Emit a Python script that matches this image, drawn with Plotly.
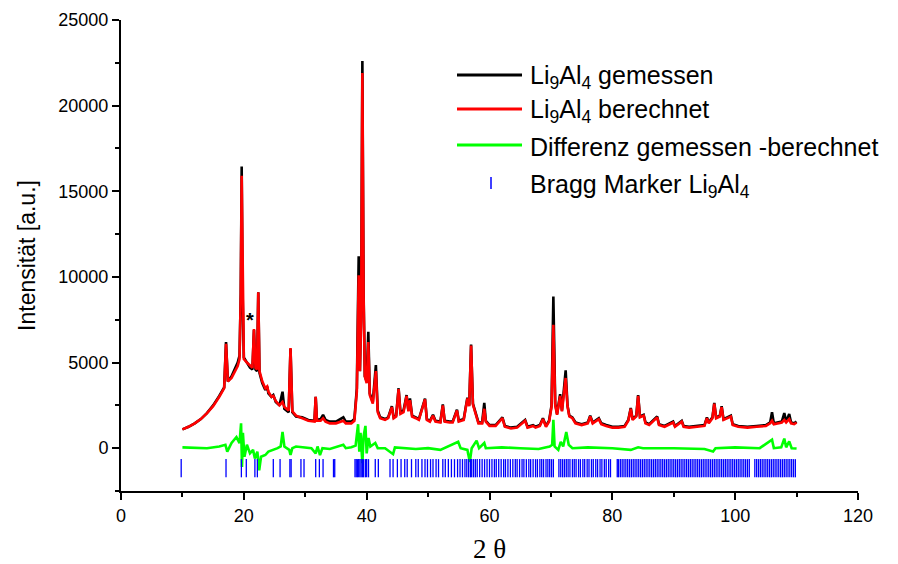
import plotly.graph_objects as go

# ---------------- data ----------------
two_theta = [10.0, 11.0, 12.0, 13.0, 14.0, 15.0, 16.0, 16.8, 17.1, 17.4, 18.0, 18.6, 19.0, 19.3, 19.5, 19.65, 19.8,
             20.0, 20.5, 21.0, 21.4, 21.65, 21.9, 22.15, 22.35, 22.55, 23.0, 23.5, 23.8, 24.0, 24.5, 24.8, 25.2,
             25.8, 26.3, 26.6, 27.3, 27.6, 27.9, 28.5, 29.5, 30.5, 31.5, 31.7, 31.9, 32.5, 32.9, 33.3, 34.0, 35.0,
             36.2, 36.6, 37.5, 38.0, 38.4, 38.7, 38.9, 39.1, 39.3, 39.5, 39.7, 40.0, 40.27, 40.5, 41.0, 41.5, 41.8,
             42.2, 43.0, 43.5, 44.1, 44.4, 44.8, 45.2, 45.5, 46.0, 46.5, 46.8, 47.05, 47.4, 48.0, 48.5, 49.5, 49.8,
             50.3, 50.8, 51.2, 52.0, 52.4, 52.7, 53.5, 54.0, 54.7, 55.0, 55.8, 56.4, 56.7, 57.0, 57.3, 57.8, 58.2,
             58.8, 59.15, 59.4, 60.0, 61.0, 62.1, 62.5, 63.5, 64.5, 65.8, 66.2, 67.1, 67.5, 68.2, 68.7, 69.2, 69.7,
             70.1, 70.4, 70.7, 71.0, 71.5, 71.8, 72.4, 72.7, 73.0, 73.5, 74.0, 75.0, 76.0, 76.4, 76.8, 77.8, 78.2,
             79.0, 80.0, 81.0, 82.0, 82.6, 83.0, 83.3, 83.9, 84.2, 84.5, 85.1, 85.4, 86.0, 87.3, 87.6, 88.5, 89.9,
             90.2, 91.3, 91.6, 92.5, 94.0, 95.0, 95.4, 95.7, 96.3, 96.6, 96.9, 97.5, 97.8, 98.1, 99.3, 99.6, 100.5,
             102.0, 103.5, 105.0, 105.7, 106.0, 106.3, 107.0, 107.6, 108.0, 108.3, 108.8, 109.1, 109.6, 110.0]

measured = [1100, 1250, 1450, 1700, 2050, 2500, 3050, 3550, 6200, 3900, 4200, 4700, 5000, 5400, 9000, 16450, 9000,
            5300, 5000, 4700, 4600, 6900, 4600, 4500, 9100, 4400, 3800, 3400, 3600, 3200, 3000, 3100, 2700,
            2500, 3300, 2300, 2100, 5800, 2100, 1850, 1800, 1650, 1600, 3000, 1650, 1700, 1950, 1650, 1550, 1550,
            1800, 1550, 1550, 1700, 3500, 11200, 4500, 8000, 22600, 9000, 4200, 3900, 6800, 3200, 2700, 4850, 2200,
            1800, 1700, 1800, 2450, 1800, 1900, 3500, 2100, 2200, 3100, 2200, 2900, 1900, 1800, 1700, 2900, 1700,
            1600, 1950, 1600, 1550, 2550, 1600, 1550, 1550, 2250, 1600, 1700, 2950, 2500, 6050, 2600, 2000, 1500,
            1500, 2650, 1600, 1350, 1350, 1800, 1300, 1200, 1250, 1650, 1250, 1350, 1250, 1350, 1750, 1300, 1600,
            2500, 8850, 2600, 2000, 3150, 2200, 4550, 2500, 1900, 1800, 1500, 1400, 1500, 1900, 1500, 1750, 1450,
            1350, 1250, 1250, 1300, 1650, 2350, 1700, 1900, 3100, 1850, 1950, 1500, 1400, 1850, 1400, 1300, 1550,
            1300, 1600, 1300, 1250, 1300, 1350, 1800, 1500, 1800, 2650, 1800, 1900, 2450, 1700, 1900, 1400, 1300,
            1250, 1300, 1350, 1500, 2100, 1450, 1500, 1550, 2050, 1550, 2000, 1500, 1450, 1550]

calculated = [1100, 1250, 1450, 1700, 2050, 2450, 3000, 3500, 6100, 3900, 4100, 4500, 4800, 5200, 9000, 15900, 9000,
              5200, 5000, 4800, 4700, 6950, 4700, 4600, 9100, 4500, 3900, 3500, 3600, 3300, 3000, 3050, 2750,
              2500, 2700, 2400, 2200, 5850, 2150, 1900, 1750, 1600, 1550, 3000, 1600, 1600, 1750, 1550, 1450, 1450,
              1600, 1450, 1450, 1600, 3300, 10100, 4500, 7500, 21900, 8800, 4200, 3800, 6200, 3100, 2600, 4500, 2100,
              1750, 1650, 1750, 2400, 1750, 1850, 3450, 2000, 2100, 3050, 2150, 2800, 1850, 1750, 1650, 2850, 1650,
              1550, 1900, 1550, 1500, 2500, 1550, 1500, 1500, 2200, 1550, 1650, 2900, 2450, 6000, 2550, 1950, 1450,
              1450, 2300, 1550, 1300, 1300, 1750, 1250, 1150, 1200, 1600, 1200, 1300, 1200, 1300, 1700, 1250, 1550,
              2400, 7200, 2500, 1950, 3050, 2150, 4100, 2450, 1850, 1750, 1450, 1350, 1450, 1850, 1450, 1700, 1400,
              1300, 1200, 1200, 1250, 1600, 2300, 1650, 1850, 3050, 1800, 1900, 1450, 1350, 1800, 1350, 1250, 1500,
              1250, 1550, 1250, 1200, 1250, 1300, 1750, 1450, 1750, 2600, 1750, 1850, 2400, 1650, 1850, 1350, 1250,
              1200, 1250, 1300, 1450, 1600, 1400, 1450, 1500, 1650, 1500, 1700, 1450, 1400, 1500]

diff_theta = [10, 12, 14, 16, 17, 17.3, 18, 18.8, 19.3, 19.55, 19.7, 19.85, 20.1, 20.5, 21.0, 21.5, 21.8, 22.2,
              22.5, 22.8, 23.5, 24.0, 24.8, 25.5, 26.0, 26.3, 26.6, 27.4, 27.6, 27.9, 28.5, 29.5, 31.0, 31.7,
              32.0, 32.4, 32.8, 34, 36.2, 36.6, 37.5, 38.2, 38.6, 38.8, 39.0, 39.3, 39.5, 39.8, 40.0, 40.3, 40.6,
              41.4, 41.8, 43, 44.3, 44.6, 46, 48, 50, 52, 54.9, 55.3, 56.4, 56.8, 57.1, 57.9, 58.3, 59.15, 59.4,
              62, 65, 68, 69.8, 70.2, 70.4, 70.6, 71.2, 71.6, 72.0, 72.5, 72.9, 73.5, 76, 80, 83, 84.2, 85, 90,
              95, 96.4, 96.8, 100, 104, 106.0, 106.3, 107.5, 108.0, 108.3, 108.8, 109.2, 110]
difference = [50, 30, 0, 100, 200, -200, 300, 650, 300, 1450, -1100, 900, -500, 200, -300, -100, -600, -200,
              -1300, -500, -400, -200, -100, 0, 100, 950, 100, -100, -400, 0, 100, 50, 0, -300,
              100, -400, 0, -50, 200, 0, 50, 150, 1400, -200, 900, -880, 700, 1300, -300, 600, 100,
              300, 0, 0, -350, 50, 0, -50, 0, -100, 370, 0, -100, -800, 0, 440, 0, 300, 0,
              50, 0, -50, 100, 200, 1650, 100, -100, 370, 100, 950, 200, 0, 50, 0, -100, 50, 0, 0,
              -50, -200, 0, 50, 0, 500, 0, 50, 560, 50, 400, 0, -20]

bragg_positions = [9.8, 17.1, 19.6, 20.4, 21.8, 22.2, 24.8, 25.9, 27.5, 27.7, 29.3, 29.8, 31.7, 32.3, 32.9, 34.6, 34.8,
                   38.1, 38.3, 38.5, 38.7, 38.9, 39.1, 39.3, 39.5, 39.8, 40.0, 40.3, 41.4, 41.9,
                   43.8, 44.3, 45.0, 45.6, 46.2, 46.6, 47.3, 48.0, 48.4, 49.0, 49.5, 49.9, 50.4, 50.8, 51.3, 51.7,
                   52.4, 52.8, 53.3, 53.8, 54.3, 54.8, 55.2, 55.6, 56.0, 56.3, 56.6, 56.9, 57.1, 57.4, 57.7, 58.0,
                   58.4, 58.8, 59.2, 59.6, 60.0, 60.4, 60.8, 61.1, 61.5, 61.9, 62.3, 62.6, 63.0, 63.4, 63.8, 64.2,
                   64.5, 64.9, 65.3, 65.6, 66.0, 66.4, 66.7, 67.1, 67.5, 67.8, 68.2, 68.5, 68.8, 69.2, 69.5, 69.8,
                   70.1, 70.4, 71.3, 71.6, 71.9, 72.2, 72.5, 72.8, 73.1, 73.5, 73.8, 74.1, 74.5, 74.8, 75.2, 75.5,
                   75.9, 76.2, 76.6, 76.9, 77.3, 77.6, 78.0, 78.3, 78.7, 79.0, 79.4, 79.7, 80.8, 81.0, 81.3, 81.6,
                   81.9, 82.2, 82.5, 82.8, 83.1, 83.4, 83.7, 84.0, 84.3, 84.6, 84.9, 85.2, 85.5, 85.8, 86.1, 86.4,
                   86.7, 87.0, 87.3, 87.6, 87.9, 88.2, 88.5, 88.8, 89.1, 89.4, 89.7, 90.0, 90.3, 90.6, 90.9, 91.2,
                   91.5, 91.8, 92.1, 92.4, 92.7, 93.0, 93.3, 93.6, 93.9, 94.2, 94.5, 94.8, 95.1, 95.4, 95.7, 96.0,
                   96.3, 96.6, 96.9, 97.2, 97.5, 97.8, 98.1, 98.4, 98.7, 99.0, 99.3, 99.6, 99.9, 100.2, 100.5, 100.8,
                   101.1, 101.4, 101.7, 102.0, 102.3, 103.2, 103.5, 103.8, 104.1, 104.4, 104.7, 105.0, 105.3, 105.6,
                   105.9, 106.2, 106.5, 106.8, 107.1, 107.4, 107.7, 108.0, 108.3, 108.6, 108.9, 109.2, 109.5, 109.8]
bragg_level = -1170

x_ticks = [0, 20, 40, 60, 80, 100, 120]
y_ticks = [0, 5000, 10000, 15000, 20000, 25000]

series_names = ["Li<sub>9</sub>Al<sub>4</sub> gemessen",
                "Li<sub>9</sub>Al<sub>4</sub> berechnet",
                "Differenz gemessen -berechnet",
                "Bragg Marker Li<sub>9</sub>Al<sub>4</sub>"]
series_colors = ["black", "#ff0000", "#00ff00", "#0000ff"]

# ---------------- figure ----------------
fig = go.Figure()
fig.add_trace(go.Scatter(x=two_theta, y=measured, mode="lines",
                         line=dict(color=series_colors[0], width=2.6), name=series_names[0]))
fig.add_trace(go.Scatter(x=two_theta, y=calculated, mode="lines",
                         line=dict(color=series_colors[1], width=2.6), name=series_names[1]))
fig.add_trace(go.Scatter(x=diff_theta, y=difference, mode="lines",
                         line=dict(color=series_colors[2], width=2.6), name=series_names[2]))
fig.add_trace(go.Scatter(x=bragg_positions, y=[bragg_level] * len(bragg_positions), mode="markers",
                         marker=dict(symbol="line-ns", size=13, line=dict(color=series_colors[3], width=1.3)),
                         name=series_names[3]))

fig.add_annotation(x=21.0, y=7500, text="<b>*</b>", showarrow=False,
                   font=dict(size=20, color="black", family="Liberation Sans, Arial"))

# ---- hand-built legend (long line samples as in the original) ----
L, R, T, B = 121, 858, 20, 491          # plot area in pixels
def px(xp):
    return (xp - L) / (R - L)
def py(yp):
    return (B - yp) / (B - T)

legend_rows = [75, 109, 145, 184]
for i, (name, col, yr) in enumerate(zip(series_names, series_colors, legend_rows)):
    if i < 3:
        fig.add_shape(type="line", xref="paper", yref="paper",
                      x0=px(457), x1=px(522), y0=py(yr), y1=py(yr),
                      line=dict(color=col, width=3))
    else:
        fig.add_shape(type="line", xref="paper", yref="paper",
                      x0=px(491), x1=px(491), y0=py(yr - 7), y1=py(yr + 5),
                      line=dict(color=col, width=1.5))
    fig.add_annotation(xref="paper", yref="paper", x=px(528), y=py(yr + 2), text=name,
                       showarrow=False, xanchor="left", yanchor="middle",
                       font=dict(family="Liberation Sans, Arial", size=25, color="black"))

axis_common = dict(showline=True, linecolor="black", linewidth=2, ticks="outside",
                   tickcolor="black", tickwidth=2, ticklen=7, showgrid=False, zeroline=False,
                   automargin=False,
                   tickfont=dict(family="Liberation Sans, Arial", size=18, color="black"))

fig.update_xaxes(range=[0, 120], tickvals=x_ticks, tickformat="d",
                 minor=dict(ticks="outside", tickvals=[10, 30, 50, 70, 90, 110], ticklen=4,
                            tickwidth=2, tickcolor="black"),
                 title=dict(text="2 θ", font=dict(family="Liberation Serif, Times New Roman", size=27,
                                                  color="black"), standoff=15),
                 **axis_common)
fig.update_yaxes(range=[-2500, 25000], tickvals=y_ticks, tickformat="d",
                 minor=dict(ticks="outside", tickvals=[-2500, 2500, 7500, 12500, 17500, 22500], ticklen=4,
                            tickwidth=2, tickcolor="black"),
                 title=dict(text="Intensität [a.u.]", font=dict(family="Liberation Sans, Arial", size=23,
                                                                color="black"), standoff=16),
                 **axis_common)

fig.update_layout(
    width=898, height=564,
    margin=dict(l=121, r=40, t=20, b=73),
    plot_bgcolor="white", paper_bgcolor="white",
    showlegend=False,
)

fig.write_html("out.html")
